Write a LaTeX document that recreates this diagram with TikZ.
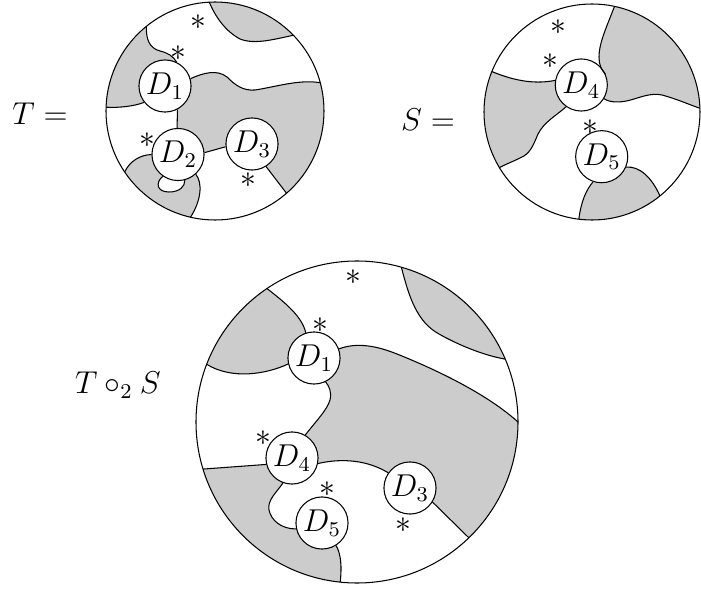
\documentclass[tikz,border=0pt]{standalone}
\usepackage{tikz}
\usetikzlibrary{backgrounds}
\colorlet{colorRegion}{black!20}
\tikzset{
  disc/.style={circle, draw, fill=white, inner sep=0pt, minimum size=19.8pt, font=\large},
  region/.style={fill=colorRegion},
  marker/.style={inner sep=0pt, font=\large}
}

\begin{document}
\begin{tikzpicture}[x=0.38pt, y=0.38pt]
\useasboundingbox (0,0) rectangle (701,588);
\node[font=\large] (labelT) at (40,474) {$T =$};
\node[font=\large] (labelS) at (428,468) {$S =$};
\node[font=\large] (labelTS) at (118,203) {$T \circ_2 S$};

% T
\begin{scope}[shift={(215,477)}]
\node[disc] (t1) at (-50,25) {$D_1$};
\node[disc] (t2) at (-37,-43.5) {$D_2$};
\node[disc] (t3) at (37,-33) {$D_3$};
\begin{pgfonlayer}{background}
\fill[region] (93:109) .. controls (0,95) and (10,80) .. (25,72) .. controls (40,66) and (60,72) .. (44:109) arc[start angle=44, end angle=93, radius=109] -- cycle;
\fill[region] (129:109) .. controls (-69,72) and (-66,63) .. (-55,60) .. controls (-47,58) and (-42,55) .. (t1.64) -- (t1.center) -- (t1.218) .. controls (-80,5) and (-95,3) .. (178:109) arc[start angle=178, end angle=129, radius=109] -- cycle;
\fill[region] (t1.16) .. controls (-12,38) and (2,42) .. (12,34) .. controls (20,26) and (28,20) .. (40,21) .. controls (60,24) and (85,32) .. (15:109) arc[start angle=15, end angle=-49, radius=109] -- (t3.-58) -- (t3.center) -- (t3.186) -- (t2.4) -- (t2.center) -- (t2.92) -- (t1.-62) -- (t1.center) -- cycle;
\fill[region] (214:109) .. controls (-85,-50) and (-75,-44) .. (t2.180) -- (t2.center) -- (t2.-48) .. controls (-12,-72) and (-14,-90) .. (257:109) arc[start angle=257, end angle=214, radius=109] -- cycle;
\fill[white] (t2.235) .. controls (-60,-72) and (-58,-81) .. (-46,-81) .. controls (-36,-81) and (-30,-76) .. (t2.-75) -- (t2.center) -- cycle;
\end{pgfonlayer}
\draw (93:109) .. controls (0,95) and (10,80) .. (25,72) .. controls (40,66) and (60,72) .. (44:109);
\draw (129:109) .. controls (-69,72) and (-66,63) .. (-55,60) .. controls (-47,58) and (-42,55) .. (t1.64);
\draw (t1.218) .. controls (-80,5) and (-95,3) .. (178:109);
\draw (t1.16) .. controls (-12,38) and (2,42) .. (12,34) .. controls (20,26) and (28,20) .. (40,21) .. controls (60,24) and (85,32) .. (15:109);
\draw (t3.-58) -- (-49:109);
\draw (t2.4) -- (t3.186);
\draw (t1.-62) -- (t2.92);
\draw (214:109) .. controls (-85,-50) and (-75,-44) .. (t2.180);
\draw (t2.-48) .. controls (-12,-72) and (-14,-90) .. (257:109);
\draw (t2.235) .. controls (-60,-72) and (-58,-81) .. (-46,-81) .. controls (-36,-81) and (-30,-76) .. (t2.-75);
\draw (0,0) circle (109);
\node[marker] at (-17,89) {$\ast$};
\node[marker] at (-37,58) {$\ast$};
\node[marker] at (-68,-29) {$\ast$};
\node[marker] at (33,-69) {$\ast$};
\end{scope}

% S
\begin{scope}[shift={(592,476)}]
\node[disc] (s4) at (-10.7,27) {$D_4$};
\node[disc] (s5) at (9.7,-44.7) {$D_5$};
\begin{pgfonlayer}{background}
\fill[region] (158:108) .. controls (-75,30) and (-55,28) .. (s4.170) -- (s4.center) -- (s4.235) .. controls (-35,-3) and (-48,-10) .. (-54,-22) .. controls (-59,-34) and (-62,-42) .. (-72,-46) .. controls (-80,-50) and (-86,-52) .. (211:108) arc[start angle=211, end angle=158, radius=108] -- cycle;
\fill[region] (78:108) .. controls (16,88) and (7,70) .. (7,55) .. controls (7,48) and (9,42) .. (s4.25) -- (s4.center) -- (s4.-31) .. controls (18,9) and (30,9) .. (42,13) .. controls (52,16) and (60,19) .. (70,17) .. controls (85,13) and (98,7) .. (2:108) arc[start angle=2, end angle=78, radius=108] -- cycle;
\fill[region] (s5.251) .. controls (-6,-78) and (-11,-90) .. (263:108) arc[start angle=263, end angle=309, radius=108] .. controls (60,-66) and (48,-54) .. (s5.-23) -- (s5.center) -- cycle;
\end{pgfonlayer}
\draw (158:108) .. controls (-75,30) and (-55,28) .. (s4.170);
\draw (s4.235) .. controls (-35,-3) and (-48,-10) .. (-54,-22) .. controls (-59,-34) and (-62,-42) .. (-72,-46) .. controls (-80,-50) and (-86,-52) .. (211:108);
\draw (78:108) .. controls (16,88) and (7,70) .. (7,55) .. controls (7,48) and (9,42) .. (s4.25);
\draw (s4.-31) .. controls (18,9) and (30,9) .. (42,13) .. controls (52,16) and (60,19) .. (70,17) .. controls (85,13) and (98,7) .. (2:108);
\draw (s5.251) .. controls (-6,-78) and (-11,-90) .. (263:108);
\draw (s5.-23) .. controls (48,-54) and (60,-66) .. (-51:108);
\draw (0,0) circle (108);
\node[marker] at (-33.7,85.3) {$\ast$};
\node[marker] at (-41.3,51.3) {$\ast$};
\node[marker] at (-2,-14.7) {$\ast$};
\end{scope}

% T o_2 S
\begin{scope}[shift={(357,166)}]
\node[disc] (c1) at (-43,64) {$D_1$};
\node[disc] (c4) at (-65,-36) {$D_4$};
\node[disc] (c5) at (-35,-101) {$D_5$};
\node[disc] (c3) at (53,-66) {$D_3$};
\begin{pgfonlayer}{background}
\fill[region] (124:161) .. controls (-70,118) and (-55,105) .. (c1.108) -- (c1.center) -- (c1.193) .. controls (-90,48) and (-125,42) .. (159:161) arc[start angle=159, end angle=124, radius=161] -- cycle;
\fill[region] (74:161) .. controls (52,125) and (60,100) .. (82,88) .. controls (105,75) and (130,66) .. (23:161) arc[start angle=23, end angle=74, radius=161] -- cycle;
\fill[region] (c1.20) .. controls (0,80) and (20,76) .. (40,68) .. controls (80,52) and (130,28) .. (0:161) arc[start angle=0, end angle=-46, radius=161] -- (c3.-32) -- (c3.center) -- (c3.145) .. controls (10,-38) and (-15,-36) .. (c4.-12) -- (c4.center) -- (c4.60) .. controls (-40,2) and (-30,12) .. (-27,22) .. controls (-25,30) and (-28,36) .. (c1.-64) -- (c1.center) -- cycle;
\fill[region] (197:161) -- (c4.194) -- (c4.center) -- (c4.250) .. controls (-80,-70) and (-90,-78) .. (-88,-88) .. controls (-86,-98) and (-76,-107) .. (c5.193) -- (c5.center) -- (c5.-58) .. controls (-16,-132) and (-15,-145) .. (-96:161) arc[start angle=-96, end angle=-163, radius=161] -- cycle;
\end{pgfonlayer}
\draw (124:161) .. controls (-70,118) and (-55,105) .. (c1.108);
\draw (c1.193) .. controls (-90,48) and (-125,42) .. (159:161);
\draw (74:161) .. controls (52,125) and (60,100) .. (82,88) .. controls (105,75) and (130,66) .. (23:161);
\draw (c1.20) .. controls (0,80) and (20,76) .. (40,68) .. controls (80,52) and (130,28) .. (0:161);
\draw (c3.-32) -- (-46:161);
\draw (c4.-12) .. controls (-15,-36) and (10,-38) .. (c3.145);
\draw (c4.60) .. controls (-40,2) and (-30,12) .. (-27,22) .. controls (-25,30) and (-28,36) .. (c1.-64);
\draw (197:161) -- (c4.194);
\draw (c4.250) .. controls (-80,-70) and (-90,-78) .. (-88,-88) .. controls (-86,-98) and (-76,-107) .. (c5.193);
\draw (c5.-58) .. controls (-16,-132) and (-15,-145) .. (-96:161);
\draw (0,0) circle (161);
\node[marker] at (-4,145) {$\ast$};
\node[marker] at (-37,97) {$\ast$};
\node[marker] at (-94,-16) {$\ast$};
\node[marker] at (-30,-67) {$\ast$};
\node[marker] at (46,-103) {$\ast$};
\end{scope}
\end{tikzpicture}
\end{document}
